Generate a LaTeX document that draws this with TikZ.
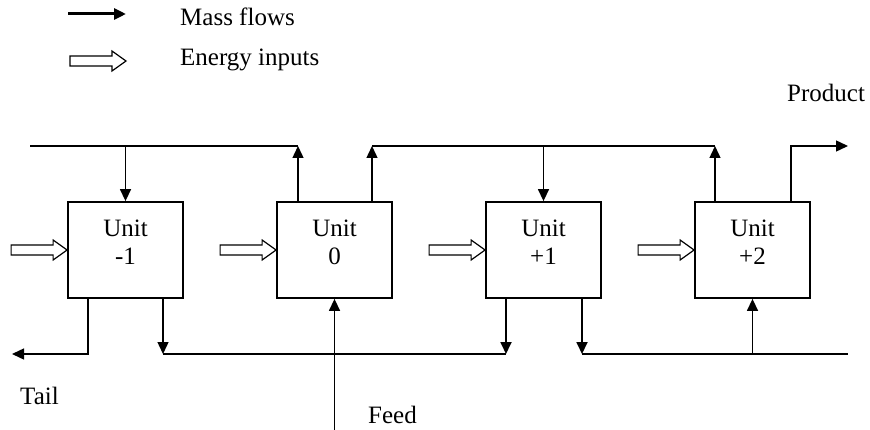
\documentclass[tikz,border=0pt]{standalone}
\usepackage{fontspec}
\setmainfont{Liberation Serif}
\usetikzlibrary{arrows.meta}
\begin{document}
\begin{tikzpicture}[x=1pt,y=-1pt,
  font=\fontsize{25}{28}\selectfont,
  unitbox/.style={draw,line width=1.8pt,minimum width=115pt,minimum height=96pt,inner sep=0pt},
  lbl/.style={align=center,inner sep=0pt},
  flow/.style={line width=1.4pt,-{Triangle[length=12pt,width=11pt]}},
  plain/.style={line width=1.4pt},
  txt/.style={anchor=base west,inner sep=0pt},
  energy/.pic={\draw[line width=1.2pt,fill=white,line join=miter] (-56,-5) -- (-14,-5) -- (-14,-10) -- (0,0) -- (-14,10) -- (-14,5) -- (-56,5) -- cycle;}
]
\useasboundingbox (0,0) rectangle (870,430);
% units
\node[unitbox] (um1) at (125.5,250) {};
\node[unitbox] (u0) at (334.5,250) {};
\node[unitbox] (up1) at (543.5,250) {};
\node[unitbox] (up2) at (752.5,250) {};
\node[lbl] (tm1) at (125.5,242) {Unit\\-1};
\node[lbl] (t0) at (334.5,242) {Unit\\0};
\node[lbl] (tp1) at (543.5,242) {Unit\\+1};
\node[lbl] (tp2) at (752.5,242) {Unit\\+2};
% energy inputs
\pic at (um1.west) {energy};
\pic at (u0.west) {energy};
\pic at (up1.west) {energy};
\pic at (up2.west) {energy};
% top streams
\coordinate (tL) at (30,146);
\coordinate (tA) at (125.5,146);
\coordinate (tB) at (298,146);
\coordinate (tC) at (372,146);
\coordinate (tD) at (715,146);
\coordinate (pS) at (791,146);
\coordinate (pE) at (848,146);
\draw[plain] (tL) -- (tB);
\draw[flow] (tA) -- (um1.north);
\draw[flow] (tB |- u0.north) -- (tB);
\draw[plain,line width=1.8pt] (tC) -- (tD);
\draw[flow] (tC |- u0.north) -- (tC);
\draw[flow] (up1.north |- tC) -- (up1.north);
\draw[flow] (tD |- up2.north) -- (tD);
\draw[flow] (pS |- up2.north) -- (pS) -- (pE);
% bottom streams
\coordinate (bT) at (88,354);
\coordinate (bTe) at (12,354);
\coordinate (bA) at (163,354);
\coordinate (bB) at (506,354);
\coordinate (bC) at (582,354);
\coordinate (bD) at (752.5,354);
\coordinate (bE) at (848,354);
\coordinate (fd) at (334.5,430);
\draw[flow] (bT |- um1.south) -- (bT) -- (bTe);
\draw[plain] (bA) -- (bB);
\draw[flow] (bA |- um1.south) -- (bA);
\draw[flow,line width=1.8pt] (bB |- up1.south) -- (bB);
\draw[plain,line width=1.8pt] (bC) -- (bE);
\draw[flow,line width=1.8pt] (bC |- up1.south) -- (bC);
\draw[flow] (bD) -- (up2.south);
\draw[flow] (fd) -- (u0.south);
% legend
\coordinate (lm1) at (68,14);
\coordinate (lm2) at (126,14);
\draw[line width=3pt,-{Triangle[length=12pt,width=11pt]}] (lm1) -- (lm2);
\pic at (126,61) {energy};
\node[txt] (mf) at (180,26) {Mass flows};
\node[txt] (ei) at (180,66) {Energy inputs};
% labels
\node[txt] (prod) at (787,102) {Product};
\node[txt] (tail) at (20,404) {Tail};
\node[txt] (feed) at (368,423) {Feed};
\end{tikzpicture}
\end{document}
